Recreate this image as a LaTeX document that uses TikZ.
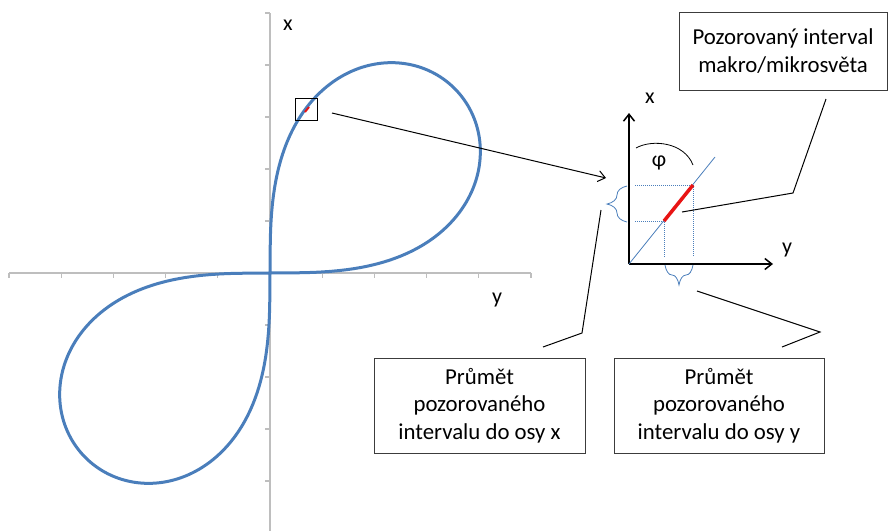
\documentclass[tikz,border=0pt]{standalone}
\usepackage{fontspec}
\setmainfont{Carlito}
\usetikzlibrary{arrows.meta,positioning,decorations.pathreplacing}
\definecolor{osa}{RGB}{190,190,190}
\definecolor{krivka}{RGB}{74,126,187}
\definecolor{ramec}{RGB}{60,60,60}
\definecolor{usek}{RGB}{232,20,20}

\begin{document}
\begin{tikzpicture}[x=1pt,y=-1pt,
    popis/.style={draw=ramec,line width=1pt,fill=white,align=center,inner sep=0pt,
      font=\fontsize{22.8}{27.5}\selectfont},
    odkaz/.style={black,line width=1pt},
    znak/.style={inner sep=0pt,font=\fontsize{22}{26}\selectfont},
    sipka/.style={-{Straight Barb[length=7pt,width=11pt]}},
    prumet/.style={krivka,line width=0.6pt,dash pattern=on 1pt off 1pt},
    zavorka/.style={krivka,line width=0.8pt,decorate,decoration={brace,amplitude=20pt}}]
  \useasboundingbox (0,0) rectangle (888,531);
  % hlavni osy
  \draw[osa,line width=1.5pt] (9,273) -- (531,273);
  \draw[osa,line width=1.5pt] (270,13) -- (270,531);
  \foreach \k in {-5,-4,-3,-2,-1,1,2,3,4,5} {
    \draw[osa,line width=1.2pt] ({270+52.2*\k},273) -- ++(0,5);
    \draw[osa,line width=1.2pt] (270,{273+52*\k}) -- ++(-5,0);
  }
  \node[znak] (osax) at (288,25) {x};
  \node[znak] (osay) at (497,300) {y};
  % lemniskata
  \draw[krivka,line width=3pt,line join=round]
    plot[domain=0:90,samples=181] ({270+261*sqrt(abs(sin(2*\x)))*cos(\x)},{273-261*sqrt(abs(sin(2*\x)))*sin(\x)})
    -- plot[domain=270:180,samples=181] ({270+261*sqrt(abs(sin(2*\x)))*cos(\x)},{273-261*sqrt(abs(sin(2*\x)))*sin(\x)});
  \draw[usek,line width=2pt] (305,112) -- (309,107);
  \node[draw=black,line width=0.8pt,minimum size=22pt,inner sep=0pt] (okno) at (306,109) {};
  \coordinate (zacatek) at (332,113);
  \coordinate (cil) at (606,178);
  \draw[odkaz,sipka] (zacatek) -- (cil);
  % detail
  \coordinate (O) at (629,264);
  \coordinate (vrchX) at (629,113);
  \coordinate (vrchY) at (773,264);
  \draw[black,line width=1.5pt,sipka] (O) -- (vrchX);
  \draw[black,line width=1.5pt,sipka] (O) -- (vrchY);
  \node[znak] (malax) at (650,98) {x};
  \node[znak] (malay) at (787,250) {y};
  \coordinate (A) at (664,221);
  \coordinate (B) at (693,185);
  \draw[krivka,line width=0.8pt] (O) -- (715,157);
  \draw[prumet] (635,185) -- (B) -- (693,257);
  \draw[prumet] (635,221) -- (A) -- (664,257);
  \draw[usek,line width=3.5pt] (A) -- (B);
  \draw[line width=0.8pt] (636,148) .. controls (652,139) and (684,142) .. (693,165);
  \node[znak] (uhel) at (659,163) {φ};
  \draw[zavorka] (627,222) -- (627,186);
  \draw[zavorka] (693,265) -- (665,265);
  % popisky
  \node[popis,minimum width=208pt,minimum height=78pt] (pozor) at (783,51)
    {Pozorovaný interval\\makro/mikrosvěta};
  \node[popis,minimum width=211pt,minimum height=95pt] (prumx) at (479.5,405.5)
    {Průmět\\pozorovaného\\intervalu do osy x};
  \node[popis,minimum width=210pt,minimum height=95pt] (prumy) at (719,405.5)
    {Průmět\\pozorovaného\\intervalu do osy y};
  \coordinate (pozorA) at (826,99);
  \coordinate (pozorB) at (793,193);
  \coordinate (pozorC) at (682,212);
  \coordinate (prumxA) at (543,347);
  \coordinate (prumxB) at (582,333);
  \coordinate (prumxC) at (601,210);
  \coordinate (prumyA) at (782,347);
  \coordinate (prumyB) at (820,332);
  \coordinate (prumyC) at (697,291);
  \draw[odkaz] (pozorA) -- (pozorB) -- (pozorC);
  \draw[odkaz] (prumxA) -- (prumxB) -- (prumxC);
  \draw[odkaz] (prumyA) -- (prumyB) -- (prumyC);
\end{tikzpicture}
\end{document}
